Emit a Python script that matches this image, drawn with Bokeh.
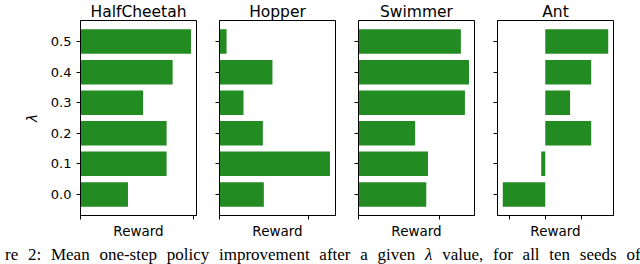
from bokeh.plotting import figure
from bokeh.layouts import row, column
from bokeh.models import Range1d, FixedTicker, PrintfTickFormatter, Div
from bokeh.embed import file_html
from bokeh.resources import INLINE

# ---- data ----
lambdas = [0.0, 0.1, 0.2, 0.3, 0.4, 0.5]
titles = ["HalfCheetah", "Hopper", "Swimmer", "Ant"]
halfcheetah = [419, 760, 760, 552, 813, 975]
hopper = [501, 1248, 490, 271, 598, 80]
swimmer = [838, 859, 700, 1316, 1366, 1266]
ant = [-1185, -112, 1280, 692, 1280, 1756]
x_ticks_hc = [0, 1000]
x_ticks_hop = [0, 1000]
x_ticks_sw = [0, 1000]
x_ticks_ant = [-1000, 0, 1000]
x_label = "Reward"
y_label = "λ"
caption = ("re 2: Mean one-step policy improvement after a given <i>λ</i> value, "
           "for all ten seeds of")

series = [halfcheetah, hopper, swimmer, ant]
xticks = [x_ticks_hc, x_ticks_hop, x_ticks_sw, x_ticks_ant]

BAR = "#228B22"
FONT = "DejaVu Sans"


def panel(i):
    vals = series[i]
    lo = min(0, min(vals))
    hi = max(0, max(vals))
    span = hi - lo
    x0 = lo - 0.05 * span if lo < 0 else 0
    x1 = hi + 0.05 * span
    first = i == 0
    p = figure(frame_width=116, frame_height=195,
               x_range=Range1d(x0, x1), y_range=Range1d(-0.069, 0.569),
               output_backend="svg", toolbar_location=None,
               min_border_left=80 if first else 19, min_border_right=4,
               min_border_top=18, min_border_bottom=22)
    p.hbar(y=lambdas, left=0, right=vals, height=0.08,
           fill_color=BAR, line_color=None)
    p.title.text = titles[i]
    p.title.align = "center"
    p.title.text_font = FONT
    p.title.text_font_size = "15.5px"
    p.title.text_font_style = "normal"
    p.title.text_color = "#000000"
    p.title.standoff = 0
    p.grid.visible = False
    p.outline_line_color = "#000000"
    p.outline_line_width = 1
    p.outline_line_alpha = 1
    for ax in (p.xaxis[0], p.yaxis[0]):
        ax.axis_line_color = "#000000"
        ax.major_tick_line_color = "#000000"
        ax.major_tick_out = 4
        ax.major_tick_in = 0
        ax.minor_tick_line_color = None
        ax.major_label_text_font = FONT
        ax.major_label_text_color = "#000000"
        ax.axis_label_text_font = FONT
        ax.axis_label_text_color = "#000000"
    p.xaxis.ticker = FixedTicker(ticks=xticks[i])
    p.xaxis.major_label_text_font_size = "1px"
    p.xaxis.major_label_text_color = None
    p.xaxis.major_label_standoff = 0
    p.xaxis.axis_label = x_label
    p.xaxis.axis_label_text_font_size = "13.5px"
    p.xaxis.axis_label_text_font_style = "normal"
    p.xaxis.axis_label_standoff = 3
    p.yaxis.ticker = FixedTicker(ticks=lambdas)
    p.yaxis.formatter = PrintfTickFormatter(format="%.1f")
    if first:
        p.yaxis.major_label_text_font_size = "13px"
        p.yaxis.major_label_standoff = 5
        p.yaxis.axis_label = y_label
        p.yaxis.axis_label_text_font_size = "14px"
        p.yaxis.axis_label_text_font_style = "italic"
        p.yaxis.axis_label_standoff = 8
    else:
        p.yaxis.major_label_text_font_size = "1px"
        p.yaxis.major_label_text_color = None
        p.yaxis.major_label_standoff = 0
    return p


panels = [panel(i) for i in range(4)]
cap = Div(text=caption, width=640, height=20,
          styles={"font-family": "Liberation Serif", "font-size": "17px",
                  "line-height": "18px", "white-space": "nowrap",
                  "word-spacing": "5.5px",
                  "overflow": "hidden", "color": "#000000"})
layout = column(row(*panels, spacing=0), cap, spacing=0)

open("out.html", "w").write(file_html(layout, INLINE))
